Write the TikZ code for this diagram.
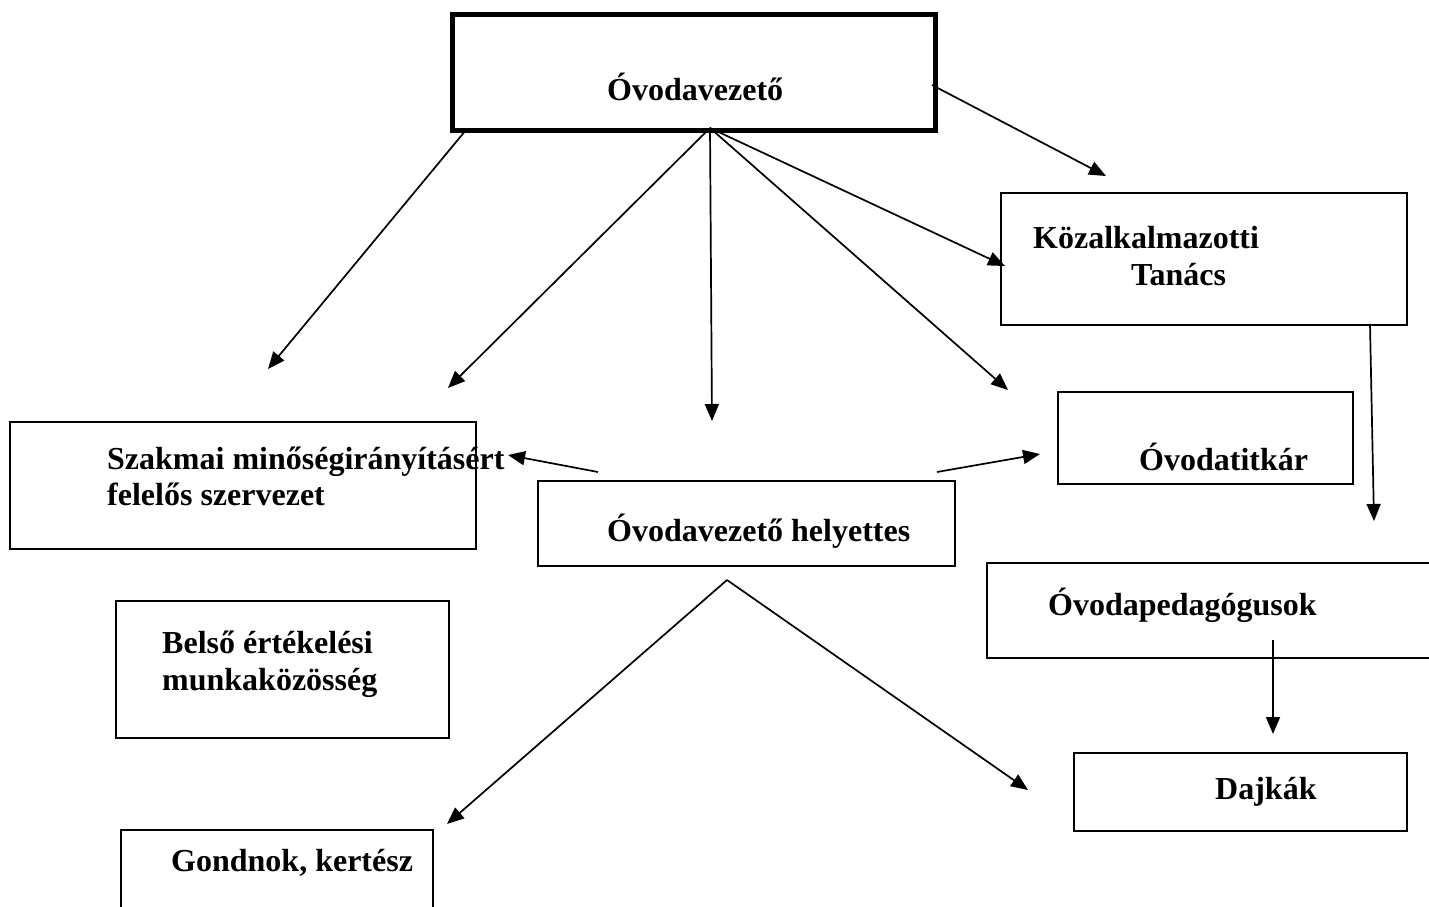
\documentclass[tikz,border=0pt]{standalone}
\usepackage{fontspec}
\setmainfont{Liberation Serif}
\usetikzlibrary{arrows.meta}
\begin{document}
\begin{tikzpicture}[x=1pt,y=-1pt,
  box/.style={draw, line width=2pt, inner sep=0pt, anchor=north west},
  lbl/.style={anchor=base west, inner sep=0pt, font=\fontsize{32}{37}\selectfont\bfseries},
  arr/.style={line width=1.7pt, -{Triangle[length=17pt,width=14pt]}}]
\clip (0,0) rectangle (1429,907);
% boxes
\node[box, line width=5pt, minimum width=483pt, minimum height=116pt] (vez) at (450,12) {};
\node[box, minimum width=406pt, minimum height=132pt] (kt) at (1000,192) {};
\node[box, minimum width=295pt, minimum height=92pt] (tit) at (1057,391) {};
\node[box, minimum width=466pt, minimum height=127pt] (szak) at (9,421) {};
\node[box, minimum width=417pt, minimum height=85pt] (hely) at (537,480) {};
\node[box, minimum width=460pt, minimum height=95pt] (ped) at (986,562) {};
\node[box, minimum width=333pt, minimum height=137pt] (belso) at (115,600) {};
\node[box, minimum width=333pt, minimum height=78pt] (dajk) at (1073,752) {};
\node[box, minimum width=312pt, minimum height=100pt] (gond) at (120,829) {};
% labels
\node[lbl] (tvez) at (607,100) {Óvodavezető};
\node[lbl] (tkt1) at (1033,248) {Közalkalmazotti};
\node[lbl] (tkt2) at (1131,285) {Tanács};
\node[lbl] (ttit) at (1139,470) {Óvodatitkár};
\node[lbl] (tsz1) at (107,469) {Szakmai minőségirányításért};
\node[lbl] (tsz2) at (107,505) {felelős szervezet};
\node[lbl] (thely) at (607,541) {Óvodavezető helyettes};
\node[lbl] (tped) at (1048,615) {Óvodapedagógusok};
\node[lbl] (tbe1) at (162,653) {Belső értékelési};
\node[lbl] (tbe2) at (162,690) {munkaközösség};
\node[lbl] (tdajk) at (1215,799) {Dajkák};
\node[lbl] (tgond) at (171,871) {Gondnok, kertész};
% connector end points
\coordinate (a1s) at (466,130);
\coordinate (a1e) at (268,369);
\coordinate (hub) at (710,128);
\coordinate (a2e) at (448,388);
\coordinate (a3e) at (712,421);
\coordinate (a4e) at (1008,390);
\coordinate (a5e) at (1005,266);
\coordinate (a6s) at (932,85);
\coordinate (a6e) at (1106,176);
\coordinate (a7s) at (1370,324);
\coordinate (a7e) at (1374,521);
\coordinate (a8s) at (1273,640);
\coordinate (a8e) at (1273,734);
\coordinate (a9s) at (598,472);
\coordinate (a9e) at (508,455);
\coordinate (a10s) at (937,472);
\coordinate (a10e) at (1040,454);
\coordinate (apex) at (727,580);
\coordinate (vl) at (447,824);
\coordinate (vr) at (1028,790);
% connectors
\draw[arr] (a1s) -- (a1e);
\draw[arr] (hub) -- (a2e);
\draw[arr] (hub) -- (a3e);
\draw[arr] (hub) -- (a4e);
\draw[arr] (hub) -- (a5e);
\draw[arr] (a6s) -- (a6e);
\draw[arr] (a7s) -- (a7e);
\draw[arr] (a8s) -- (a8e);
\draw[arr] (a9s) -- (a9e);
\draw[arr] (a10s) -- (a10e);
\draw[arr] (apex) -- (vl);
\draw[arr] (apex) -- (vr);
\end{tikzpicture}
\end{document}
